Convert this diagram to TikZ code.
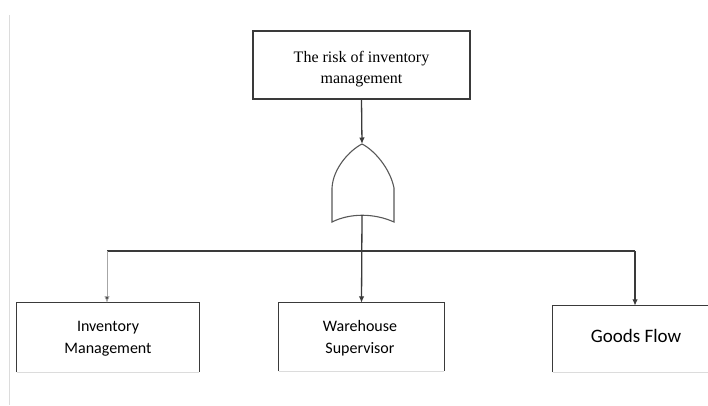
\documentclass[tikz,border=0pt]{standalone}
\usepackage{fontspec}
\setmainfont{Liberation Serif}
\newfontfamily\calib{Carlito}
\usetikzlibrary{arrows.meta}
\definecolor{ink}{HTML}{3A3A3A}
\definecolor{faint}{HTML}{DCDCDC}
\tikzset{
  edge/.style={draw=ink, line width=1.3pt},
  link/.style={edge, -{Latex[length=6.5pt,width=5.5pt]}},
  thinlink/.style={draw=gray!70, line width=0.8pt, -{Latex[length=6.5pt,width=5.5pt,fill=ink]}},
  toptext/.style={font=\fontsize{16}{21}\selectfont, align=center, inner sep=0pt, anchor=base},
  leaftext/.style={font=\calib\fontsize{16}{22}\selectfont, align=center, inner sep=0pt, anchor=base},
  gate/.style={draw=ink!85, line width=1.1pt, fill=white}
}
\begin{document}
\begin{tikzpicture}[x=1pt,y=-1pt]
\useasboundingbox (0,0) rectangle (708,405);
\fill[white] (0,0) rectangle (708,405);
% page rule at the left margin
\draw[faint, line width=1pt] (9,15) -- (9,405);

% top event
\node[draw=ink, line width=1.3pt, minimum width=217pt, minimum height=68pt, inner sep=0pt] (risk) at (361.5,65) {};
\node[toptext] (riskT) at (361.5,83.6) {The risk of inventory\\management};

% OR gate
\coordinate (gtop) at (362,144);
\coordinate (gbot) at (362,215);
\draw[gate] (gtop) .. controls (350,150) and (333,168) .. (332,188) -- (332,222)
  .. controls (350,213) and (374,213) .. (394,222) -- (394,188)
  .. controls (390,168) and (374,150) .. (gtop) -- cycle;

% branching points
\coordinate (jl) at (107,251);
\coordinate (jm) at (362,251);
\coordinate (jr) at (635,251);

% basic events
\node[minimum width=182pt, minimum height=69pt, inner sep=0pt] (inv) at (108,337.5) {};
\node[minimum width=165pt, minimum height=68pt, inner sep=0pt] (wh) at (361.5,337) {};
\node[minimum width=160pt, minimum height=66pt, inner sep=0pt] (gf) at (633,339) {};
\draw[faint, line width=1.2pt] (inv.south west) -- (inv.south east);
\draw[faint, line width=1.2pt] (wh.south west) -- (wh.south east);
\draw[faint, line width=1.2pt] (gf.south west) -- (gf.south east);
\draw[edge] (inv.south west) -- (inv.north west) -- (inv.north east) -- (inv.south east);
\draw[edge] (wh.south west) -- (wh.north west) -- (wh.north east) -- (wh.south east);
\draw[edge] (gf.south west) -- (gf.north west) -- (gf.north east);
\node[leaftext] (invT) at (108,353.7) {Inventory\\Management};
\node[leaftext] (whT) at (360,353.7) {Warehouse\\Supervisor};
\node[leaftext, font=\calib\fontsize{19}{23}\selectfont] (gfT) at (636,342) {Goods Flow};

% connectors
\draw[link] (risk.south) -- (gtop);
\draw[link] (gbot) -- (wh.north);
\draw[edge] (jl) -- (jr);
\draw[thinlink] (jl) -- (jl |- inv.north);
\draw[link] (jr) -- (jr |- gf.north);
\end{tikzpicture}
\end{document}
